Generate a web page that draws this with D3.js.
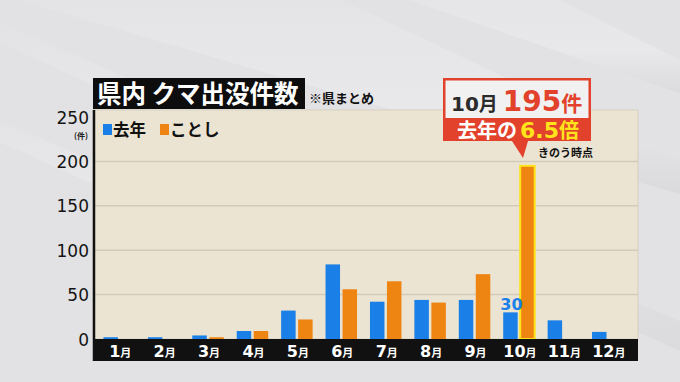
<!DOCTYPE html>
<html><head><meta charset="utf-8">
<script src="https://cdn.jsdelivr.net/npm/d3@7"></script>
<style>
html,body{margin:0;padding:0;background:#e3e3e5;}
svg{display:block;}
</style></head>
<body>
<svg id="c" width="680" height="382"></svg>
<script>
const months = ["1","2","3","4","5","6","7","8","9","10","11","12"];
const monthSuffix = "月";
const lastYear = [2, 2, 4, 9, 32, 84, 42, 44, 44, 30, 21, 8];
const thisYear = [0, 0, 2, 9, 22, 56, 65, 41, 73, 195, null, null];
const yTicks = [0, 50, 100, 150, 200, 250];
const gridTicks = [50, 100, 150, 200];
const seriesNames = ["去年", "ことし"];
const colors = ["#1a80e8", "#ee8412"];
const highlightIndex = 9;

const svg = d3.select("#c");
const W = 680, H = 382;
const jp = "'Noto Sans CJK JP','Noto Sans',sans-serif";
const num = "'DejaVu Sans','Liberation Sans',sans-serif";

// background
const defs = svg.append("defs");
const g1 = defs.append("linearGradient").attr("id","streak").attr("x1","0").attr("y1","0").attr("x2","0").attr("y2","1");
g1.append("stop").attr("offset","0").attr("stop-color","#ffffff").attr("stop-opacity",0);
g1.append("stop").attr("offset","0.6").attr("stop-color","#f2f2f3").attr("stop-opacity",0.7);
g1.append("stop").attr("offset","1").attr("stop-color","#c9c9cc").attr("stop-opacity",0.6);
svg.append("rect").attr("width",W).attr("height",H).attr("fill","#e2e2e4");
const streaks = [
  [[-50,-20],[300,-20],[700,170],[700,200]],
  [[350,-20],[520,-20],[700,70],[700,100]],
  [[-50,120],[-50,100],[420,300],[420,330]],
  [[-50,20],[-50,0],[700,330],[700,360]]
];
streaks.forEach(p=>{
  svg.append("polygon").attr("points",p.map(d=>d.join(",")).join(" "))
    .attr("fill","url(#streak)").attr("opacity",0.55);
});

// scales
const x = d3.scaleBand().domain(months).range([97, 630]).padding(0);
const y = d3.scaleLinear().domain([0, 250]).range([339, 117]);

const panelL = 93, panelR = 638, panelT = 110, baseY = 339, bandB = 361;

// panel
svg.append("rect").attr("x",panelL).attr("y",panelT).attr("width",panelR-panelL).attr("height",baseY-panelT)
  .attr("fill","#ebe4d2").attr("stroke","#d6cfbf").attr("stroke-width",1);
// gridlines
svg.append("g").selectAll("line").data(gridTicks).join("line")
  .attr("x1",panelL).attr("x2",panelR).attr("y1",d=>y(d)).attr("y2",d=>y(d))
  .attr("stroke","#d3cbb8").attr("stroke-width",1.5);

// bars
const bw = 14.5, gap = 2.5;
const bars = svg.append("g");
months.forEach((m,i)=>{
  const c = x(m) + x.bandwidth()/2;
  if (lastYear[i] != null) {
    bars.append("rect").attr("x", c - gap/2 - bw).attr("width", bw)
      .attr("y", y(lastYear[i])).attr("height", y(0)-y(lastYear[i])).attr("fill", colors[0]);
  }
  if (thisYear[i] != null && thisYear[i] > 0) {
    const r = bars.append("rect").attr("x", c + gap/2).attr("width", bw)
      .attr("y", y(thisYear[i])).attr("height", y(0)-y(thisYear[i])).attr("fill", colors[1]);
    if (i === highlightIndex) r.attr("stroke","#ffe21a").attr("stroke-width",2);
  }
});

// x axis band
svg.append("rect").attr("x",panelL).attr("y",baseY).attr("width",panelR-panelL).attr("height",bandB-baseY).attr("fill","#111");
svg.append("line").attr("x1",panelL+1).attr("x2",panelL+1).attr("y1",panelT).attr("y2",bandB).attr("stroke","#111").attr("stroke-width",2.5);
const xl = svg.append("g").selectAll("text").data(months).join("text")
  .attr("x", d=>x(d)+x.bandwidth()/2+1).attr("y", 357)
  .attr("text-anchor","middle").attr("fill","#fff").attr("font-family",num).attr("font-weight","bold");
xl.append("tspan").attr("font-size",16).text(d=>d);
xl.append("tspan").attr("font-size",11).attr("font-family",jp).text(monthSuffix);

// y axis labels
const yAxis = d3.axisLeft(y).tickValues(yTicks).tickSize(0).tickPadding(0);
const ya = svg.append("g").attr("transform","translate(89,0)").call(yAxis);
ya.select(".domain").remove();
ya.selectAll("text").attr("font-family",num).attr("font-size",17).attr("fill","#141414").attr("dy","0.36em").attr("x",0);
svg.append("text").attr("x",88).attr("y",138.5).attr("text-anchor","end").attr("font-family",jp)
  .attr("font-size",8).attr("font-weight","bold").attr("fill","#222").text("(件)");

// title
svg.append("rect").attr("x",93).attr("y",78).attr("width",212).attr("height",31).attr("fill","#0d0d0d");
svg.append("text").attr("x",97).attr("y",103).attr("font-family",jp).attr("font-weight","bold")
  .attr("font-size",24.5).attr("fill","#fff").text("県内 クマ出没件数");
svg.append("text").attr("x",309).attr("y",103).attr("font-family",jp).attr("font-weight","bold")
  .attr("font-size",13).attr("fill","#111").text("※県まとめ");

// legend
const leg = svg.append("g");
[[103, 0],[160, 1]].forEach(([lx,k])=>{
  leg.append("rect").attr("x",lx).attr("y",124).attr("width",9).attr("height",11).attr("fill",colors[k]);
  leg.append("text").attr("x",lx+10).attr("y",136).attr("font-family",jp).attr("font-weight","bold")
    .attr("font-size",16.5).attr("fill","#111").text(seriesNames[k]);
});

// value label 30
const lb = highlightIndex;
svg.append("text").attr("x", x(months[lb]) + x.bandwidth()/2 - gap/2 - bw/2 + 1).attr("y", y(lastYear[lb]) - 2)
  .attr("text-anchor","middle").attr("font-family",num).attr("font-weight","bold").attr("font-size",16)
  .attr("fill",colors[0]).text(lastYear[lb]);

// callout
const cx0 = 443, cx1 = 591, cy0 = 78, cyM = 118, cy1 = 141;
const red = "#e2412b";
svg.append("path").attr("d",`M${cx0},${cy0}H${cx1}V${cy1}H528L523,158L512,${cy1}H${cx0}Z`).attr("fill",red);
svg.append("rect").attr("x",cx0+2.5).attr("y",cy0+2.5).attr("width",cx1-cx0-5).attr("height",cyM-cy0-2.5).attr("fill","#f1f1f1");
const t1 = svg.append("text").attr("x",451).attr("y",111).attr("font-weight","bold");
t1.append("tspan").attr("font-family",num).attr("font-size",20).attr("fill","#2b2b2b").text(months[lb]);
t1.append("tspan").attr("font-family",jp).attr("font-size",19).attr("fill","#2b2b2b").text(monthSuffix);
t1.append("tspan").attr("dx",5).attr("font-family",num).attr("font-size",28).attr("fill",red).text(thisYear[lb]);
t1.append("tspan").attr("font-family",jp).attr("font-size",21).attr("fill",red).text("件");
const t2 = svg.append("text").attr("x",457).attr("y",138).attr("font-weight","bold");
t2.append("tspan").attr("font-family",jp).attr("font-size",20).attr("fill","#fff").text("去年の");
t2.append("tspan").attr("dx",3).attr("font-family",num).attr("font-size",22).attr("fill","#ffe41c").text("6.5");
t2.append("tspan").attr("font-family",jp).attr("font-size",20).attr("fill","#ffe41c").text("倍");
svg.append("text").attr("x",538).attr("y",157).attr("font-family",jp).attr("font-weight","bold")
  .attr("font-size",11).attr("fill","#111").text("きのう時点");
</script>
</body></html>
